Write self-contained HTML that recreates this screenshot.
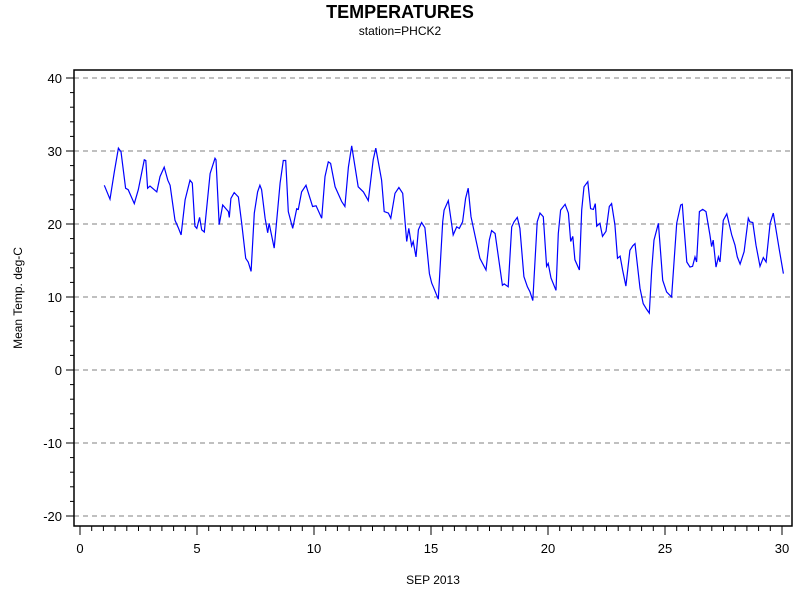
<!DOCTYPE html>
<html><head><meta charset="utf-8"><style>
body{margin:0;background:#fff;}
svg{display:block;font-family:"Liberation Sans",sans-serif;}
</style></head><body>
<svg id="chart" width="800" height="600" viewBox="0 0 800 600" xmlns="http://www.w3.org/2000/svg">
<rect width="800" height="600" fill="#fff"/>
<text x="400" y="18" text-anchor="middle" font-size="18" font-weight="bold">TEMPERATURES</text>
<text x="400" y="35" text-anchor="middle" font-size="12">station=PHCK2</text>
<g id="grid"></g>
<g id="axes"></g>
<path id="series" fill="none" stroke="#0000ff" stroke-width="1.2"/>
<text transform="translate(22,298) rotate(-90)" text-anchor="middle" font-size="12">Mean Temp. deg-C</text>
<text x="433" y="584" text-anchor="middle" font-size="12">SEP 2013</text>
</svg>
<script>
const days=[1.04,1.28,1.47,1.64,1.75,1.95,2.06,2.32,2.49,2.75,2.81,2.89,2.99,3.28,3.42,3.6,3.75,3.85,4.06,4.2,4.32,4.49,4.7,4.8,4.91,4.99,5.11,5.2,5.31,5.56,5.77,5.81,5.95,6.1,6.34,6.38,6.45,6.59,6.77,6.91,7.08,7.19,7.31,7.45,7.59,7.69,7.76,7.91,8.02,8.08,8.3,8.55,8.69,8.79,8.9,9.09,9.26,9.33,9.47,9.66,9.94,10.09,10.33,10.47,10.61,10.71,10.9,11.18,11.32,11.47,11.61,11.89,12.11,12.32,12.53,12.64,12.89,13.0,13.18,13.28,13.46,13.63,13.79,13.96,14.05,14.17,14.24,14.36,14.46,14.6,14.74,14.93,15.03,15.1,15.31,15.5,15.56,15.74,15.95,16.1,16.21,16.35,16.48,16.59,16.71,16.95,17.09,17.35,17.49,17.59,17.74,17.88,18.05,18.13,18.3,18.45,18.55,18.69,18.8,18.97,19.12,19.23,19.35,19.54,19.66,19.8,19.94,20.01,20.13,20.34,20.44,20.54,20.73,20.87,20.97,21.06,21.15,21.34,21.44,21.54,21.7,21.82,21.94,22.02,22.08,22.22,22.33,22.48,22.62,22.72,22.86,22.97,23.08,23.19,23.33,23.5,23.62,23.72,23.93,24.07,24.22,24.33,24.43,24.53,24.72,24.9,25.07,25.28,25.5,25.67,25.74,25.81,25.93,26.07,26.18,26.28,26.35,26.47,26.61,26.75,26.92,26.99,27.06,27.18,27.28,27.35,27.49,27.64,27.85,27.99,28.09,28.21,28.38,28.56,28.63,28.75,28.89,29.06,29.2,29.32,29.49,29.63,29.89,30.06];
const temps=[25.3,23.4,27.2,30.4,29.9,24.9,24.7,22.8,24.7,28.8,28.7,24.9,25.2,24.4,26.5,27.8,26.0,25.3,20.5,19.5,18.5,23.3,26.0,25.6,19.7,19.4,20.9,19.2,18.9,26.9,29.0,28.8,19.9,22.6,21.7,20.9,23.5,24.3,23.7,20.1,15.3,14.8,13.5,21.5,24.4,25.3,24.7,20.8,18.8,20.1,16.7,25.6,28.7,28.7,21.7,19.4,22.1,22.0,24.4,25.3,22.4,22.5,20.8,26.5,28.5,28.3,25.1,23.1,22.4,27.8,30.7,25.1,24.4,23.2,28.8,30.4,26.0,21.7,21.5,20.8,24.2,25.0,24.2,17.6,19.4,17.0,17.6,15.5,19.2,20.2,19.5,13.2,11.9,11.4,9.7,20.3,21.9,23.2,18.5,19.6,19.4,20.3,23.5,24.9,21.0,17.4,15.3,13.7,17.8,19.1,18.7,15.5,11.6,11.8,11.4,19.6,20.3,20.9,19.4,12.8,11.4,10.7,9.5,20.3,21.5,21.0,14.2,14.6,12.6,10.9,18.7,21.9,22.7,21.5,17.6,18.3,15.1,13.7,21.9,25.1,25.8,22.1,22.0,22.8,19.7,20.1,18.3,19.0,22.4,22.8,19.9,15.3,15.6,13.7,11.5,16.4,17.0,17.3,11.2,9.1,8.3,7.8,13.7,17.8,20.1,12.3,10.7,10.0,20.1,22.6,22.7,19.6,14.8,14.1,14.2,15.5,14.8,21.7,22.0,21.7,18.5,16.9,17.8,14.1,15.5,14.8,20.5,21.4,18.5,17.1,15.5,14.5,16.2,20.8,20.3,20.2,17.1,14.2,15.4,14.8,20.1,21.5,16.4,13.2];
const xTicks=[0,5,10,15,20,25,30];
const yTicks=[-20,-10,0,10,20,30,40];
const NS="http://www.w3.org/2000/svg";
const L=74,R=792,T=70,B=526;
function xs(d){return 80+(d-0)*(782-80)/30;}
function ys(v){return 370-(v)*(370-78)/40;}
function mk(tag,attrs,parent){const e=document.createElementNS(NS,tag);for(const k in attrs)e.setAttribute(k,attrs[k]);parent.appendChild(e);return e;}
const grid=document.getElementById('grid'),axes=document.getElementById('axes');
yTicks.forEach(v=>{
  const g=mk('line',{x1:L,x2:R,y1:ys(v),y2:ys(v),stroke:'#808080','stroke-dasharray':'5,4'},grid);
  
  
  const t=mk('line',{x1:L-8,x2:L,y1:ys(v),y2:ys(v),stroke:'#000'},axes);
  
  
  const lb=mk('text',{x:L-12,y:ys(v)+5,'text-anchor':'end','font-size':'13'},axes);
  lb.textContent=v;
  
  
});
for(let v=-20;v<=40;v+=2){if(v%10===0)continue;
  const m=mk('line',{x1:L-4,x2:L,y1:ys(v),y2:ys(v),stroke:'#000'},axes);
  
  
}
xTicks.forEach(d=>{
  const t=mk('line',{x1:xs(d),x2:xs(d),y1:B,y2:B+9,stroke:'#000'},axes);
  
  
  const lb=mk('text',{x:xs(d),y:B+27,'text-anchor':'middle','font-size':'13'},axes);
  lb.textContent=d;
  
  
});
for(let d=0.5;d<30.1;d+=0.5){if(Math.abs(d%5)<1e-6)continue;
  const m=mk('line',{x1:xs(d),x2:xs(d),y1:B,y2:B+5,stroke:'#000'},axes);
  
  
}
const frame=mk('rect',{x:L,y:T,width:R-L,height:B-T,fill:'none',stroke:'#000','stroke-width':'1.5'},axes);


document.getElementById('series').setAttribute('d',days.map((d,i)=>(i?'L':'M')+xs(d).toFixed(1)+','+ys(temps[i]).toFixed(1)).join(''));
</script>
</body></html>
